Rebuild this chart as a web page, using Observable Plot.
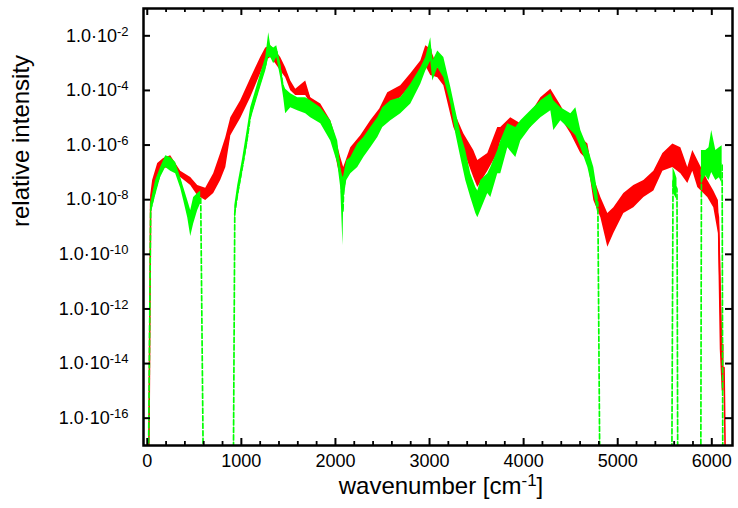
<!DOCTYPE html>
<html><head><meta charset="utf-8">
<script src="https://cdn.jsdelivr.net/npm/d3@7"></script>
<script src="https://cdn.jsdelivr.net/npm/@observablehq/plot@0.6"></script>
<style>html,body{margin:0;padding:0;background:#fff}</style>
</head><body><div id="chart"></div>
<script>
// ---- data; null = below the plotted range ----
const redWavenumber = [15,36,57,111,174,249,355,462,536,621,706,780,835,888,993,1099,1205,1259,1312,1365,1418,1471,1525,1578,1684,1737,1844,1950,1982,2024,2056,2088,2163,2269,2375,2471,2556,2694,2801,2907,2960,3013,3088,3152,3258,3364,3470,3513,3619,3725,3757,3863,3970,4076,4183,4289,4395,4502,4608,4683,4746,4821,4895,4959,5065,5171,5278,5384,5480,5586,5671,5745,5798,5851,5957,6021,6070,6090,6110,6130,6145];
const redHigh = [null,1.4e-8,5.0e-8,2.1e-7,3.2e-7,4.1e-7,1.1e-7,6.5e-8,3.3e-8,2.6e-8,8.9e-8,4.9e-7,1.9e-6,1.0e-5,4.2e-5,2.7e-4,1.6e-3,3.6e-3,4.3e-3,2.8e-3,1.6e-3,6.8e-4,2.2e-4,1.1e-4,2.2e-4,5.4e-5,3.2e-5,7.8e-6,3.4e-6,9.5e-7,3.5e-7,1.5e-7,7.9e-7,2.2e-6,7.8e-6,2.1e-5,8.3e-5,1.5e-4,4.1e-4,1.2e-3,4.3e-3,3.3e-3,6.8e-4,5.2e-4,1.8e-5,2.6e-6,6.3e-7,2.7e-7,4.9e-7,4.4e-6,4.4e-6,1.0e-5,6.0e-6,1.4e-5,5.4e-5,1.1e-4,2.8e-5,6.0e-6,1.9e-6,1.1e-6,6.5e-8,1.2e-8,3.1e-9,5.1e-9,1.7e-8,3.3e-8,5.0e-8,1.1e-7,4.9e-7,1.1e-6,7.9e-7,1.5e-7,6.3e-7,2.7e-7,5.0e-8,2.1e-8,9.3e-9,3.2e-10,5.0e-14,5.0e-14,null];
const redLow = [null,4.0e-9,1.4e-8,7.6e-8,1.4e-7,1.5e-7,6.5e-8,3.3e-8,1.4e-8,9.3e-9,1.7e-8,5.0e-8,1.5e-7,2.2e-6,9.3e-6,5.4e-5,4.1e-4,1.2e-3,1.6e-3,9.5e-4,5.2e-4,2.9e-4,9.8e-5,6.5e-5,6.5e-5,3.2e-5,1.0e-5,2.6e-6,1.1e-6,1.8e-7,6.5e-8,5.9e-8,2.7e-7,6.3e-7,2.6e-6,7.8e-6,3.2e-5,5.4e-5,1.5e-4,4.1e-4,7.9e-4,3.5e-4,2.9e-4,1.5e-4,4.4e-6,6.3e-7,6.5e-8,2.8e-8,1.1e-7,4.9e-7,1.4e-6,3.4e-6,2.6e-6,4.4e-6,1.8e-5,3.2e-5,1.0e-5,2.6e-6,4.9e-7,2.7e-7,9.3e-9,2.2e-9,1.8e-10,5.8e-10,3.1e-9,5.1e-9,1.2e-8,2.1e-8,1.1e-7,1.5e-7,8.9e-8,3.9e-8,1.1e-7,2.8e-8,1.2e-8,5.1e-9,5.8e-10,3.2e-14,1.0e-15,1.0e-15,null];

const greenWavenumber = [12,36,89,142,196,249,302,355,387,430,462,493,536,568,596,915,930,961,1014,1067,1099,1152,1205,1259,1291,1312,1344,1376,1418,1450,1471,1525,1599,1684,1737,1844,1950,2024,2056,2080,2088,2120,2163,2237,2301,2375,2450,2503,2588,2694,2801,2907,2960,3013,3035,3088,3152,3226,3279,3332,3385,3438,3492,3513,3545,3619,3651,3725,3757,3832,3917,3970,4076,4183,4289,4321,4395,4502,4555,4608,4683,4746,4789,4810,5575,5588,5610,5630,5638,5883,5890,5936,5970,5999,6043,6080,6110,6117];
const greenHigh = [null,7.2e-9,5.0e-8,1.5e-7,4.1e-7,3.5e-7,2.3e-7,6.5e-8,2.8e-8,9.3e-9,4.0e-9,1.2e-8,1.7e-8,2.1e-8,null,null,6.0e-9,3.3e-8,3.2e-7,4.4e-6,2.3e-5,9.8e-5,4.1e-4,1.6e-3,1.3e-2,4.3e-3,3.6e-3,4.3e-3,9.5e-4,1.7e-4,1.1e-4,7.6e-5,5.4e-5,5.4e-5,4.2e-5,2.3e-5,7.8e-6,1.4e-6,1.5e-7,6.5e-8,7.6e-8,2.7e-7,3.5e-7,1.1e-6,1.9e-6,4.4e-6,1.0e-5,2.3e-5,4.2e-5,5.4e-5,1.7e-4,6.8e-4,1.6e-3,8.5e-3,1.2e-3,2.8e-3,1.6e-3,1.3e-4,1.8e-5,2.6e-6,6.3e-7,8.9e-8,2.8e-8,2.1e-8,5.0e-8,8.9e-8,1.5e-7,6.3e-7,1.4e-6,6.0e-6,4.4e-6,7.8e-6,1.8e-5,4.2e-5,7.6e-5,4.2e-5,2.3e-5,1.4e-5,2.3e-5,3.4e-6,7.9e-7,1.5e-7,1.7e-8,null,null,1.5e-7,1.0e-7,6.0e-8,null,null,6.3e-7,6.3e-7,7.9e-7,3.4e-6,6.3e-7,7.9e-7,9.5e-7,null];
const greenLow = [null,2.6e-9,1.4e-8,6.5e-8,1.5e-7,1.1e-7,8.9e-8,2.6e-8,9.3e-9,2.2e-9,4.5e-10,1.3e-9,4.0e-9,7.2e-9,null,null,1.7e-9,9.3e-9,1.0e-7,1.1e-6,7.8e-6,3.2e-5,1.3e-4,5.2e-4,1.6e-3,1.6e-3,9.5e-4,1.6e-3,2.9e-4,5.4e-5,1.4e-5,2.3e-5,1.8e-5,1.4e-5,1.0e-5,6.0e-6,1.4e-6,2.1e-7,2.8e-8,2.1e-10,9.3e-9,5.0e-8,8.9e-8,1.5e-7,3.5e-7,7.9e-7,1.9e-6,4.4e-6,7.8e-6,1.4e-5,3.2e-5,1.7e-4,5.2e-4,1.2e-3,2.2e-4,6.8e-4,2.9e-4,3.2e-5,2.6e-6,3.5e-7,5.0e-8,1.2e-8,3.1e-9,2.2e-9,4.0e-9,1.7e-8,1.2e-8,8.9e-8,8.9e-8,7.9e-7,3.5e-7,1.4e-6,4.4e-6,1.0e-5,1.8e-5,3.4e-6,7.8e-6,3.4e-6,2.2e-6,7.9e-7,1.5e-7,1.7e-8,3.1e-9,null,null,2.0e-8,1.3e-8,1.0e-8,null,null,3.9e-8,7.6e-8,5.0e-8,1.0e-7,5.0e-8,6.3e-8,3.9e-8,null];

const xMajorTicks = [0,1000,2000,3000,4000,5000,6000];
const xMinorTicks = [200,400,600,800,1200,1400,1600,1800,2200,2400,2600,2800,3200,3400,3600,3800,4200,4400,4600,4800,5200,5400,5600,5800];
const yTicks = [1e-2,1e-4,1e-6,1e-8,1e-10,1e-12,1e-14,1e-16];
const yTickLabels = ["1.0·10^-2","1.0·10^-4","1.0·10^-6","1.0·10^-8","1.0·10^-10","1.0·10^-12","1.0·10^-14","1.0·10^-16"];
const xTitle = "wavenumber [cm^-1^]";
const yTitle = "relative intensity";

// ---- tables ----
const BELOW = 1e-18; // off the bottom of the log axis (clipped)
function rows(wn, hi, lo) {
  return wn.map((w, i) => {
    const h = hi[i], l = lo[i];
    const ok = h != null && l != null;
    return {w, hiA: ok ? h : NaN, loA: ok ? l : NaN, mid: ok ? Math.sqrt(h * l) : BELOW};
  });
}
const redRows = rows(redWavenumber, redHigh, redLow);
const greenRows = rows(greenWavenumber, greenHigh, greenLow);

const W = 738, H = 508, ML = 143, MR = 6, MT = 8, MB = 63;
const FW = W - ML - MR, FH = H - MT - MB;
const RED = "#ff0000", GREEN = "#00ff00";

const svg = Plot.plot({
  width: W, height: H,
  marginLeft: ML, marginRight: MR, marginTop: MT, marginBottom: MB,
  x: {domain: [-40, 6220], axis: null},
  y: {type: "log", domain: [1e-17, 1e-1], axis: null},
  style: {fontFamily: "'Liberation Sans', Arial, Helvetica, sans-serif", background: "#fff", color: "#000"},
  marks: [
    Plot.areaY(redRows, {x: "w", y1: "loA", y2: "hiA", fill: RED, clip: true}),
    Plot.line(redRows, {x: "w", y: "mid", stroke: RED, strokeWidth: 1.6, clip: true}),
    Plot.line(greenRows, {x: "w", y: "mid", stroke: GREEN, strokeWidth: 1.7, strokeDasharray: "5,2.5", clip: true}),
    Plot.areaY(greenRows, {x: "w", y1: "loA", y2: "hiA", fill: GREEN, clip: true}),
    // inward ticks on all four sides
    Plot.ruleX(xMajorTicks, {x: d => d, insetTop: FH - 7, stroke: "#000", strokeWidth: 2}),
    Plot.ruleX(xMajorTicks, {x: d => d, insetBottom: FH - 7, stroke: "#000", strokeWidth: 2}),
    Plot.ruleX(xMinorTicks, {x: d => d, insetTop: FH - 4, stroke: "#000", strokeWidth: 1.8}),
    Plot.ruleX(xMinorTicks, {x: d => d, insetBottom: FH - 4, stroke: "#000", strokeWidth: 1.8}),
    Plot.ruleY(yTicks, {y: d => d, insetRight: FW - 7, stroke: "#000", strokeWidth: 2}),
    Plot.ruleY(yTicks, {y: d => d, insetLeft: FW - 7, stroke: "#000", strokeWidth: 2}),
    Plot.frame({stroke: "#000", strokeWidth: 2.5}),
    // tick labels
    Plot.text(xMajorTicks, {x: d => d, frameAnchor: "bottom", dy: 21, text: d => String(d), fontSize: 18, fill: "#000"}),
    Plot.text(yTicks, {y: d => d, frameAnchor: "left", dx: -15, textAnchor: "end", text: (d, i) => yTickLabels[i], fontSize: 18, fill: "#000"}),
    // axis titles
    Plot.text([xTitle], {frameAnchor: "bottom", dx: 3, dy: 48, text: d => d, fontSize: 24, fill: "#000"}),
    Plot.text([yTitle], {frameAnchor: "left", dx: -122, rotate: -90, text: d => d, fontSize: 24, fill: "#000"})
  ]
});

// superscripts: "base^sup^rest"
d3.select(svg).selectAll("text").each(function () {
  const t = this.textContent;
  if (!t.includes("^")) return;
  const fs = t.startsWith("wavenumber") ? 24 : 18;
  const parts = t.split("^");
  const sel = d3.select(this);
  sel.text(null);
  sel.append("tspan").text(parts[0]);
  const shift = Math.round(fs * 0.34);
  sel.append("tspan").attr("dy", -shift).attr("font-size", Math.round(fs * 0.7)).text(parts[1]);
  if (parts[2]) sel.append("tspan").attr("dy", shift).text(parts[2]);
});

document.getElementById("chart").appendChild(svg);
</script>
</body></html>
